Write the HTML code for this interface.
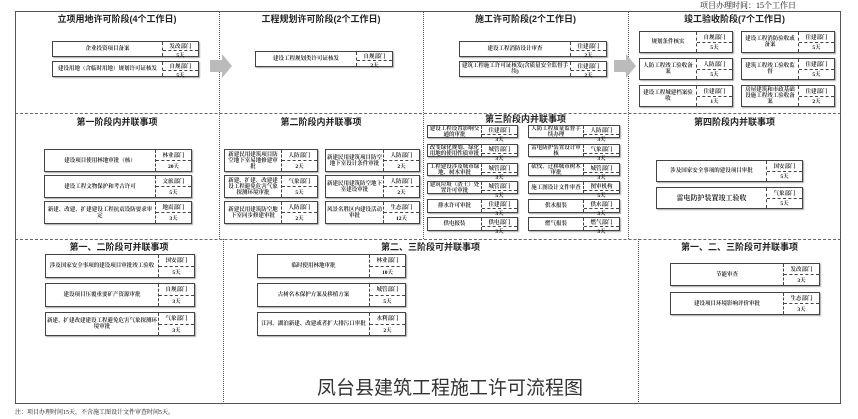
<!DOCTYPE html>
<html><head><meta charset="utf-8"><style>
*{margin:0;padding:0;box-sizing:border-box}
body{width:858px;height:419px;background:#fff;position:relative;overflow:hidden;font-family:"Liberation Serif","Noto Serif CJK SC","Noto Sans CJK SC",serif;color:#111}
.a{position:absolute}
.frame{position:absolute;left:15px;top:11px;width:826px;height:393px;border:1.5px solid #555}
.vl{position:absolute;border-left:1.5px dotted #555}
.hl{position:absolute;border-top:1.5px dashed #666}
.h{position:absolute;font-weight:bold;font-size:9px;line-height:10px;text-align:center;color:#222;font-family:"Liberation Sans","Noto Sans CJK SC",sans-serif}
.b{position:absolute;border:1.5px solid #444;box-shadow:1px 1px 1px #aaa;display:flex;background:#fff}
.b .t{flex:1;font-size:5.5px;line-height:6px;display:flex;align-items:center;justify-content:center;text-align:center;padding:0 1px;overflow:hidden;color:#000;font-weight:600}
.b .d{width:36px;border-left:1px dashed #444;display:flex;flex-direction:column;font-size:5.5px;text-align:center;color:#000;font-weight:600}
.b .d div{flex:1;display:flex;align-items:center;justify-content:center}
.b .d div:first-child{border-bottom:1px dashed #444}
.arr{position:absolute;width:0;height:0;border-top:12px solid transparent;border-bottom:12px solid transparent;border-left:10px solid #bbb}
.arrb{position:absolute;background:#bbb;width:12px;height:12px}
</style></head><body>
<div class="a" style="left:700px;top:0;font-size:8px;">项目办理时间：15个工作日</div>
<div class="frame"></div>
<div class="vl" style="left:219px;top:11px;height:228px"></div>
<div class="vl" style="left:423px;top:11px;height:228px"></div>
<div class="vl" style="left:628px;top:11px;height:228px"></div>
<div class="vl" style="left:223px;top:239px;height:165px"></div>
<div class="vl" style="left:638px;top:239px;height:165px"></div>
<div class="hl" style="left:15px;top:113px;width:826px"></div>
<div class="hl" style="left:15px;top:239px;width:826px"></div>

<div class="h" style="left:15px;top:14px;width:204px">立项用地许可阶段(4个工作日)</div>
<div class="h" style="left:219px;top:14px;width:204px">工程规划许可阶段(2个工作日)</div>
<div class="h" style="left:423px;top:14px;width:205px">施工许可阶段(2个工作日)</div>
<div class="h" style="left:628px;top:14px;width:213px">竣工验收阶段(7个工作日)</div>

<div class="arrb" style="left:210px;top:60px"></div><div class="arr" style="left:222px;top:54px"></div>
<div class="arrb" style="left:614px;top:60px"></div><div class="arr" style="left:626px;top:54px"></div>

<div class="b" style="left:52px;top:41px;width:147px;height:16px"><div class="t">企业投资项目备案</div><div class="d"><div>发改部门</div><div>5天</div></div></div>
<div class="b" style="left:52px;top:61px;width:147px;height:16px"><div class="t">建设用地（含临时用地）规划许可证核发</div><div class="d"><div>自规部门</div><div>5天</div></div></div>
<div class="b" style="left:255px;top:51px;width:138px;height:16px"><div class="t">建设工程规划类许可证核发</div><div class="d"><div>自规部门</div><div>2天</div></div></div>
<div class="b" style="left:459px;top:41px;width:148px;height:16px"><div class="t">建设工程消防设计审查</div><div class="d"><div>住建部门</div><div>2天</div></div></div>
<div class="b" style="left:459px;top:61px;width:148px;height:16px"><div class="t">建筑工程施工许可证核发(含质量安全监督手续)</div><div class="d"><div>住建部门</div><div>2天</div></div></div>

<div class="b" style="left:639px;top:31px;width:94px;height:22px"><div class="t">规划条件核实</div><div class="d"><div>自规部门</div><div>5天</div></div></div>
<div class="b" style="left:741px;top:31px;width:94px;height:22px"><div class="t">建设工程消防验收或备案</div><div class="d"><div>住建部门</div><div>5天</div></div></div>
<div class="b" style="left:639px;top:58px;width:94px;height:22px"><div class="t">人防工程竣工验收备案</div><div class="d"><div>人防部门</div><div>5天</div></div></div>
<div class="b" style="left:741px;top:58px;width:94px;height:22px"><div class="t">建筑工程竣工验收监督</div><div class="d"><div>住建部门</div><div>5天</div></div></div>
<div class="b" style="left:639px;top:85px;width:94px;height:22px"><div class="t">建设工程城建档案验收</div><div class="d"><div>住建部门</div><div>1天</div></div></div>
<div class="b" style="left:741px;top:85px;width:94px;height:22px"><div class="t">房屋建筑和市政基础设施工程竣工验收备案</div><div class="d"><div>住建部门</div><div>2天</div></div></div>

<div class="h" style="left:15px;top:117px;width:204px">第一阶段内并联事项</div>
<div class="h" style="left:219px;top:117px;width:204px">第二阶段内并联事项</div>
<div class="h" style="left:423px;top:114px;width:205px">第三阶段内并联事项</div>
<div class="h" style="left:628px;top:117px;width:213px">第四阶段内并联事项</div>

<div class="b" style="left:44px;top:149px;width:148px;height:23px"><div class="t">建设项目使用林地审批（核）</div><div class="d"><div>林业部门</div><div>20天</div></div></div>
<div class="b" style="left:44px;top:175px;width:148px;height:23px"><div class="t">建设工程文物保护和考古许可</div><div class="d"><div>文旅部门</div><div>5天</div></div></div>
<div class="b" style="left:44px;top:201px;width:148px;height:23px"><div class="t">新建、改建、扩建建设工程抗震设防要求审定</div><div class="d"><div>地震部门</div><div>3天</div></div></div>

<div class="b" style="left:224px;top:149px;width:94px;height:23px"><div class="t">新建民用建筑项目防空地下室易地修建审批</div><div class="d"><div>人防部门</div><div>2天</div></div></div>
<div class="b" style="left:325px;top:149px;width:95px;height:23px"><div class="t">新建民用建筑项目防空地下室设计条件审批</div><div class="d"><div>人防部门</div><div>2天</div></div></div>
<div class="b" style="left:224px;top:175px;width:94px;height:23px"><div class="t">新建、扩建、改建建设工程避免危害气象探测环境审批</div><div class="d"><div>气象部门</div><div>5天</div></div></div>
<div class="b" style="left:325px;top:175px;width:95px;height:23px"><div class="t">新建民用建筑防空地下室建设审批</div><div class="d"><div>人防部门</div><div>2天</div></div></div>
<div class="b" style="left:224px;top:201px;width:94px;height:23px"><div class="t">新建民用建筑防空地下室同步修建审批</div><div class="d"><div>人防部门</div><div>2天</div></div></div>
<div class="b" style="left:325px;top:201px;width:95px;height:23px"><div class="t">风景名胜区内建设活动审批</div><div class="d"><div>生态部门</div><div>12天</div></div></div>

<div class="b" style="left:427px;top:125px;width:91px;height:13px"><div class="t">建设工程设置影响交通的审批</div><div class="d"><div>住建部门</div><div>3天</div></div></div>
<div class="b" style="left:528px;top:125px;width:92px;height:13px"><div class="t">人防工程质量监督手续办理</div><div class="d"><div>人防部门</div><div>3天</div></div></div>
<div class="b" style="left:427px;top:144px;width:91px;height:13px"><div class="t">改变绿化规划、绿化用地的使用性质审批</div><div class="d"><div>城管部门</div><div>3天</div></div></div>
<div class="b" style="left:528px;top:144px;width:92px;height:13px"><div class="t">雷电防护装置设计审核</div><div class="d"><div>气象部门</div><div>3天</div></div></div>
<div class="b" style="left:427px;top:163px;width:91px;height:13px"><div class="t">工程建设涉及城市绿地、树木审批</div><div class="d"><div>城管部门</div><div>3天</div></div></div>
<div class="b" style="left:528px;top:163px;width:92px;height:13px"><div class="t">砍伐、迁移城市树木审批</div><div class="d"><div>城管部门</div><div>3天</div></div></div>
<div class="b" style="left:427px;top:181px;width:91px;height:13px"><div class="t">建筑垃圾（渣土）处置许可审批</div><div class="d"><div>城管部门</div><div>5天</div></div></div>
<div class="b" style="left:528px;top:181px;width:92px;height:13px"><div class="t">施工图设计文件审查</div><div class="d"><div>图审机构</div><div>5天</div></div></div>
<div class="b" style="left:427px;top:199px;width:91px;height:14px"><div class="t">排水许可审批</div><div class="d"><div>住建部门</div><div>3天</div></div></div>
<div class="b" style="left:528px;top:199px;width:92px;height:14px"><div class="t">供水报装</div><div class="d"><div>供水部门</div><div>3天</div></div></div>
<div class="b" style="left:427px;top:217px;width:91px;height:14px"><div class="t">供电报装</div><div class="d"><div>供电部门</div><div>3天</div></div></div>
<div class="b" style="left:528px;top:217px;width:92px;height:14px"><div class="t">燃气报装</div><div class="d"><div>燃气部门</div><div>3天</div></div></div>

<div class="b" style="left:656px;top:160px;width:147px;height:22px"><div class="t">涉及国家安全事项的建设项目审批</div><div class="d"><div>国安部门</div><div>5天</div></div></div>
<div class="b" style="left:656px;top:187px;width:147px;height:22px"><div class="t" style="font-size:7px">雷电防护装置竣工验收</div><div class="d"><div>气象部门</div><div>5天</div></div></div>

<div class="h" style="left:15px;top:242px;width:208px">第一、二阶段可并联事项</div>
<div class="h" style="left:223px;top:242px;width:415px">第二、三阶段可并联事项</div>
<div class="h" style="left:638px;top:242px;width:203px">第一、二、三阶段可并联事项</div>

<div class="b" style="left:45px;top:254px;width:150px;height:24px"><div class="t">涉及国家安全事项的建设项目审批竣工验收</div><div class="d"><div>国安部门</div><div>5天</div></div></div>
<div class="b" style="left:45px;top:283px;width:150px;height:24px"><div class="t">建设项目压覆重要矿产资源审批</div><div class="d"><div>自规部门</div><div>3天</div></div></div>
<div class="b" style="left:45px;top:312px;width:150px;height:24px"><div class="t">新建、扩建改建建设工程避免危害气象探测环境审批</div><div class="d"><div>气象部门</div><div>3天</div></div></div>

<div class="b" style="left:257px;top:254px;width:149px;height:24px"><div class="t">临时使用林地审批</div><div class="d"><div>林业部门</div><div>10天</div></div></div>
<div class="b" style="left:257px;top:283px;width:149px;height:24px"><div class="t">古树名木保护方案及移植方案</div><div class="d"><div>城管部门</div><div>5天</div></div></div>
<div class="b" style="left:257px;top:312px;width:149px;height:24px"><div class="t">江河、湖泊新建、改建或者扩大排污口审批</div><div class="d"><div>水利部门</div><div>2天</div></div></div>

<div class="b" style="left:670px;top:263px;width:150px;height:23px"><div class="t">节能审查</div><div class="d"><div>发改部门</div><div>3天</div></div></div>
<div class="b" style="left:670px;top:292px;width:150px;height:23px"><div class="t">建设项目环境影响评价审批</div><div class="d"><div>生态部门</div><div>3天</div></div></div>

<div class="a" style="left:300px;top:373px;width:300px;text-align:center;font-size:19px;color:#333;font-family:'Liberation Sans','Noto Sans CJK SC',sans-serif">凤台县建筑工程施工许可流程图</div>
<div class="a" style="left:15px;top:407px;font-size:6px">注：项目办理时间15天，不含施工图设计文件审查时间5天。</div>
</body></html>
